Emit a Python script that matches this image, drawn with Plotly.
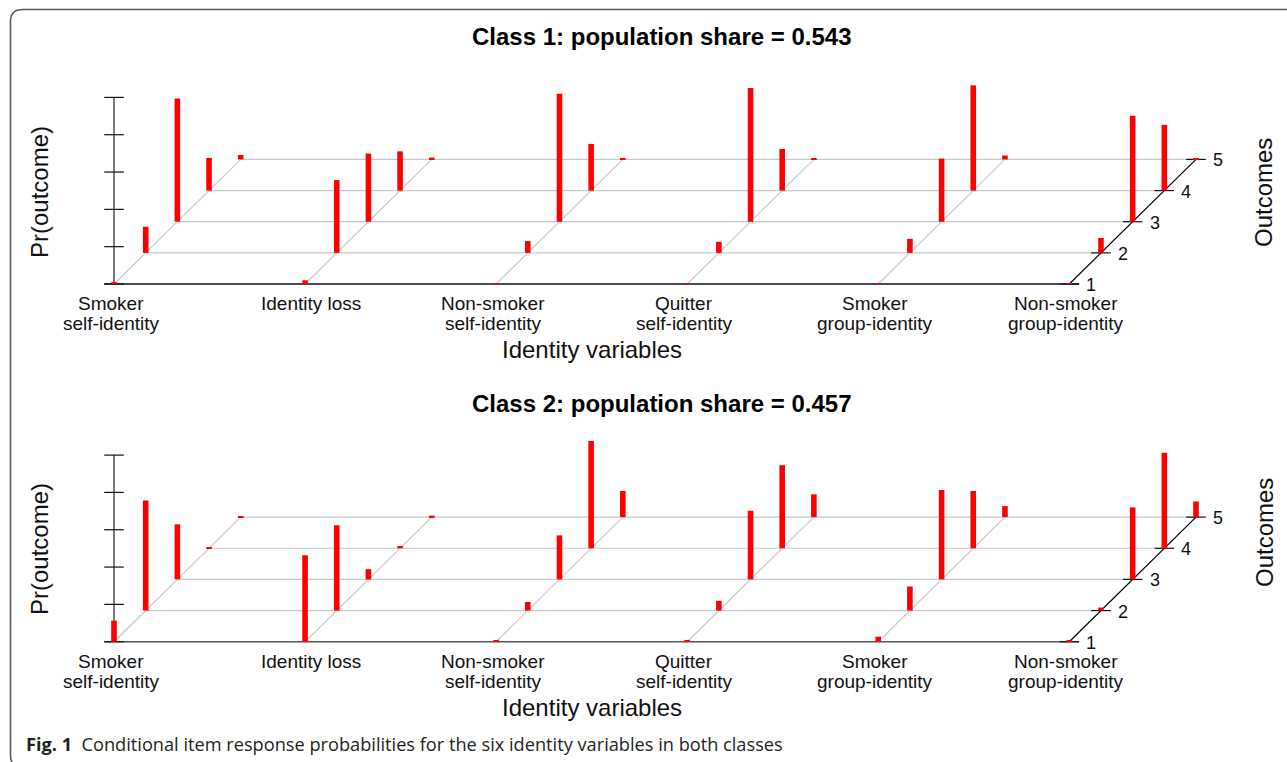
import plotly.graph_objects as go

# ---------------- data ----------------
variable_lines = [
    ["Smoker", "self-identity"],
    ["Identity loss"],
    ["Non-smoker", "self-identity"],
    ["Quitter", "self-identity"],
    ["Smoker", "group-identity"],
    ["Non-smoker", "group-identity"],
]
outcomes = [1, 2, 3, 4, 5]
prob_ticks = [0.0, 0.2, 0.4, 0.6, 0.8, 1.0]

class_titles = ["Class 1: population share = 0.543", "Class 2: population share = 0.457"]

# conditional item response probabilities, rows = variables, columns = outcomes 1..5
class1_probs = [
    [0.006, 0.140, 0.660, 0.175, 0.024],
    [0.020, 0.390, 0.365, 0.210, 0.010],
    [0.004, 0.063, 0.686, 0.250, 0.004],
    [0.004, 0.059, 0.716, 0.223, 0.004],
    [0.004, 0.075, 0.338, 0.564, 0.021],
    [0.005, 0.080, 0.568, 0.352, 0.005],
]
class2_probs = [
    [0.113, 0.590, 0.295, 0.004, 0.004],
    [0.463, 0.457, 0.055, 0.012, 0.008],
    [0.004, 0.046, 0.236, 0.575, 0.140],
    [0.005, 0.052, 0.368, 0.445, 0.122],
    [0.027, 0.129, 0.479, 0.307, 0.059],
    [0.004, 0.016, 0.386, 0.512, 0.084],
]

caption_bold = "Fig. 1"
caption_text = "Conditional item response probabilities for the six identity variables in both classes"

# ---------------- geometry (oblique projection) ----------------
W, H = 1287, 762
X0_PX = 114.0          # pixel of first variable
XSTEP_PX = 191.06      # pixels per variable
YUNIT_PX = 186.6       # pixels per probability unit
DX = 0.1658            # x offset per outcome (variable units)
DY = 0.1669            # y offset per outcome (probability units)
BAR_W = 5.6 / XSTEP_PX
TICK = 9.8 / XSTEP_PX

panels = [
    dict(probs=class1_probs, base_px=284.0, dom=(0.5, 1.0), xa="x", ya="y", title_y=37,
         lab1=303.5, lab2=323.5, xlab_y=349, ylab_y=192, olab_y=193, base_col="#111111"),
    dict(probs=class2_probs, base_px=641.7, dom=(0.0, 0.5), xa="x2", ya="y2", title_y=403,
         lab1=661, lab2=681, xlab_y=707, ylab_y=549, olab_y=533, base_col="#555555"),
]

def px(x):
    return x / W

def py(y):
    return 1 - y / H

fig = go.Figure()
shapes = []
annotations = []

xr = [-X0_PX / XSTEP_PX, (W - X0_PX) / XSTEP_PX]
nvar = len(variable_lines)
grid_col = "#c9c9c9"

for k, p in enumerate(panels):
    top_px = (1 - p["dom"][1]) * H
    bot_px = (1 - p["dom"][0]) * H
    yr = [(p["base_px"] - bot_px) / YUNIT_PX, (p["base_px"] - top_px) / YUNIT_PX]
    axname = "" if k == 0 else str(k + 1)
    fig.update_layout(**{
        f"xaxis{axname}": dict(domain=[0, 1], range=xr, visible=False, fixedrange=True,
                               anchor=f"y{axname}"),
        f"yaxis{axname}": dict(domain=list(p["dom"]), range=yr, visible=False, fixedrange=True,
                               anchor=f"x{axname}"),
    })
    xa, ya = p["xa"], p["ya"]

    def line(x0, y0, x1, y1, color, width=1):
        shapes.append(dict(type="line", xref=xa, yref=ya, x0=x0, y0=y0, x1=x1, y1=y1,
                           line=dict(color=color, width=width), layer="below"))

    last = nvar - 1
    nout = len(outcomes)
    # horizontal grid lines for outcomes 2..5
    for j in range(1, nout):
        line(0 + j * DX, j * DY, last + j * DX, j * DY, grid_col, 1.2)
    # oblique lines for each variable
    for i in range(nvar):
        col = "#000000" if i == last else grid_col
        line(i, 0, i + (nout - 1) * DX, (nout - 1) * DY, col, 1.2)
    # base line (outcome 1)
    line(-TICK, 0, last + TICK, 0, p["base_col"], 1.6)
    # vertical probability axis
    line(0, 0, 0, prob_ticks[-1], "#222222", 1.2)
    for t in prob_ticks:
        line(-TICK, t, TICK, t, "#111111", 1.2)
    # outcome axis ticks + labels
    for j, o in enumerate(outcomes):
        xo = last + j * DX
        line(xo - TICK, j * DY, xo + TICK, j * DY, "#111111", 1.2)
        annotations.append(dict(xref=xa, yref=ya, x=xo, y=j * DY, text=str(o),
                                showarrow=False, xanchor="left", yanchor="middle",
                                xshift=15, yshift=-1,
                                font=dict(size=18, color="#111111")))

    # bars
    bx, by, bb = [], [], []
    for i in range(nvar):
        for j in range(nout):
            bx.append(i + j * DX)
            bb.append(j * DY)
            by.append(p["probs"][i][j])
    fig.add_trace(go.Bar(x=bx, y=by, base=bb, width=BAR_W, xaxis=xa, yaxis=ya,
                         marker=dict(color="#ff0000", line=dict(width=0)),
                         showlegend=False, hoverinfo="skip"))

    # variable labels
    for i, lines_ in enumerate(variable_lines):
        shift = 6 if len(lines_) == 1 else -3
        for li, txt in enumerate(lines_):
            ypix = p["lab1"] if li == 0 else p["lab2"]
            annotations.append(dict(xref=xa, yref="paper", x=i, y=py(ypix), text=txt,
                                    showarrow=False, xanchor="center", yanchor="middle",
                                    xshift=shift, font=dict(size=19, color="#111111")))

    # titles
    annotations.append(dict(xref="paper", yref="paper", x=px(661), y=py(p["title_y"]),
                            text=f"<b>{class_titles[k]}</b>", showarrow=False,
                            xanchor="center", yanchor="middle",
                            font=dict(size=24, color="#000000")))
    annotations.append(dict(xref="paper", yref="paper", x=px(592), y=py(p["xlab_y"]),
                            text="Identity variables", showarrow=False,
                            xanchor="center", yanchor="middle",
                            font=dict(size=24, color="#111111")))
    annotations.append(dict(xref="paper", yref="paper", x=px(39), y=py(p["ylab_y"]),
                            text="Pr(outcome)", showarrow=False, textangle=-90,
                            xanchor="center", yanchor="middle",
                            font=dict(size=24, color="#111111")))
    annotations.append(dict(xref="paper", yref="paper", x=px(1264), y=py(p["olab_y"]),
                            text="Outcomes", showarrow=False, textangle=-90,
                            xanchor="center", yanchor="middle",
                            font=dict(size=24, color="#111111")))

# caption
annotations.append(dict(xref="paper", yref="paper", x=px(24), y=py(744),
                        text=f"<b>{caption_bold}</b>  {caption_text}", showarrow=False,
                        xanchor="left", yanchor="middle",
                        font=dict(family="Open Sans, Lato, sans-serif", size=18.2, color="#231f20")))

# rounded frame (top-left corner, open to right and bottom)
r = 12
frame_path = (f"M {px(W + 20)} {py(9.5)} L {px(10.5 + r)} {py(9.5)} "
              f"Q {px(10.5)} {py(9.5)} {px(10.5)} {py(9.5 + r)} "
              f"L {px(10.5)} {py(755)} Q {px(10.5)} {py(765)} {px(18)} {py(768)}")
shapes.append(dict(type="path", xref="paper", yref="paper", path=frame_path,
                   line=dict(color="#5a5a5a", width=1.6), layer="below"))

fig.update_layout(
    width=W, height=H,
    margin=dict(l=0, r=0, t=0, b=0),
    paper_bgcolor="white", plot_bgcolor="rgba(0,0,0,0)",
    font=dict(family="Liberation Sans, Arial, sans-serif"),
    barmode="overlay",
    shapes=shapes, annotations=annotations,
    showlegend=False,
)

fig.write_html("out.html", config={"displayModeBar": False},
               post_script="document.body.style.margin='0px';")
